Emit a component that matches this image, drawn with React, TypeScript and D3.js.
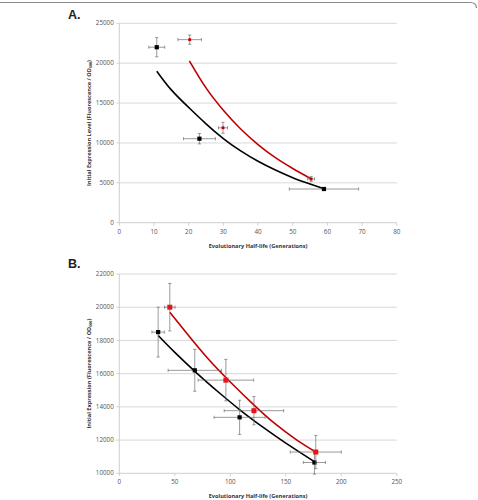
import React from "react";
import * as d3 from "d3";

// ---------- Panel A data ----------
const aXTicks = [0, 10, 20, 30, 40, 50, 60, 70, 80];
const aYTicks = [0, 5000, 10000, 15000, 20000, 25000];
const aBlackX = [10.8, 23.1, 59.0];
const aBlackY = [22000, 10530, 4225];
const aBlackXErr = [2.3, 4.6, 10];
const aBlackYErr = [1200, 650, 150];
const aRedX = [20.3, 29.9, 55.3];
const aRedY = [22950, 11900, 5480];
const aRedXErr = [3.4, 1.3, 1.0];
const aRedYErr = [580, 690, 300];
const aBlackFitX = [10.8, 15, 20, 25, 30, 35, 40, 45, 50, 55, 59];
const aBlackFitY = [19000, 16650, 14450, 12400, 10550, 9000, 7700, 6600, 5650, 4850, 4250];
const aRedFitX = [20.2, 25, 30, 35, 40, 45, 50, 55.3];
const aRedFitY = [20300, 16900, 14100, 11750, 9800, 8150, 6800, 5500];

// ---------- Panel B data ----------
const bXTicks = [0, 50, 100, 150, 200, 250];
const bYTicks = [10000, 12000, 14000, 16000, 18000, 20000, 22000];
const bBlackX = [35.0, 68.0, 108.4, 175.8];
const bBlackY = [18500, 16200, 13370, 10650];
const bBlackXErr = [5.6, 24, 23, 10];
const bBlackYErr = [1500, 1260, 1030, 700];
const bRedX = [45.5, 96.0, 121.3, 177.0];
const bRedY = [20000, 15610, 13770, 11280];
const bRedXErr = [4.8, 25, 26.8, 23];
const bRedYErr = [1430, 1250, 850, 1000];
const bBlackFitX = [35, 50, 70, 90, 110, 130, 150, 177];
const bBlackFitY = [18300, 17280, 16020, 14850, 13750, 12750, 11820, 10650];
const bRedFitX = [45.5, 60, 80, 100, 120, 140, 160, 177];
const bRedFitY = [19700, 18500, 16900, 15500, 14200, 13000, 12000, 11280];

const FONT = "'Open Sans', 'Liberation Sans', Arial, sans-serif";
const RED_LINE = "#c00000";
const RED_MARK = "#e8141b";
const ERR = "#6e6e6e";

type Series = {
  x: number[];
  y: number[];
  xe: number[];
  ye: number[];
  color: string;
  size: number;
};

type PanelProps = {
  label: string;
  top: number;
  bottom: number;
  xDomain: [number, number];
  yDomain: [number, number];
  xTicks: number[];
  yTicks: number[];
  series: Series[];
  fits: { x: number[]; y: number[]; color: string }[];
  yTitle: string;
  labelY: number;
};

const LEFT = 119.3;
const RIGHT = 396.8;

function Panel(p: PanelProps) {
  const x = d3.scaleLinear().domain(p.xDomain).range([LEFT, RIGHT]);
  const y = d3.scaleLinear().domain(p.yDomain).range([p.bottom, p.top]);
  const line = d3
    .line<[number, number]>()
    .x((d) => x(d[0]))
    .y((d) => y(d[1]))
    .curve(d3.curveNatural);
  const midY = (p.top + p.bottom) / 2;
  const cap = 1.6;
  return (
    <g>
      <text x={68} y={p.labelY} fontFamily="Arial, 'Liberation Sans', sans-serif" fontWeight="bold" fontSize={12.5} fill="#222">
        {p.label}
      </text>
      {p.yTicks.map((t) => (
        <g key={"g" + t}>
          {t !== p.yDomain[0] && (
            <line x1={LEFT} x2={RIGHT} y1={y(t)} y2={y(t)} stroke="#d4d4d4" strokeWidth={0.9} />
          )}
          <line x1={LEFT - 3} x2={LEFT} y1={y(t)} y2={y(t)} stroke="#c8c8c8" strokeWidth={0.8} />
          <text x={LEFT - 5.5} y={y(t)} dy="0.33em" textAnchor="end" fontFamily={FONT} fontSize={6.3} fill="#555">
            {t}
          </text>
        </g>
      ))}
      <line x1={LEFT} x2={LEFT} y1={p.top} y2={p.bottom} stroke="#c8c8c8" strokeWidth={0.9} />
      <line x1={LEFT} x2={RIGHT} y1={p.bottom} y2={p.bottom} stroke="#c8c8c8" strokeWidth={0.9} />
      {p.xTicks.map((t) => (
        <g key={"x" + t}>
          <line x1={x(t)} x2={x(t)} y1={p.bottom} y2={p.bottom + 3} stroke="#c8c8c8" strokeWidth={0.8} />
          <text x={x(t)} y={p.bottom + 11} textAnchor="middle" fontFamily={FONT} fontSize={6.3} fill="#555">
            {t}
          </text>
        </g>
      ))}
      <text x={(LEFT + RIGHT) / 2} y={p.bottom + 25} textAnchor="middle" fontFamily={FONT} fontWeight="bold" fontSize={5.6} fill="#333">
        Evolutionary Half-life (Generations)
      </text>
      <text
        transform={`translate(90.5,${midY}) rotate(-90)`}
        textAnchor="middle"
        fontFamily={FONT}
        fontWeight="bold"
        fontSize={5.6}
        fill="#333"
      >
        {p.yTitle}
        <tspan fontSize={3.6} dy={1.4}>600</tspan>
        <tspan dy={-1.4}>)</tspan>
      </text>
      {p.fits.map((f, i) => (
        <path
          key={"f" + i}
          d={line(f.x.map((v, j) => [v, f.y[j]] as [number, number])) || ""}
          fill="none"
          stroke={f.color}
          strokeWidth={1.6}
        />
      ))}
      {p.series.map((s, si) =>
        s.x.map((v, i) => {
          const cx = x(v);
          const cy = y(s.y[i]);
          const x0 = x(v - s.xe[i]);
          const x1 = x(v + s.xe[i]);
          const y0 = y(s.y[i] - s.ye[i]);
          const y1 = y(s.y[i] + s.ye[i]);
          return (
            <g key={`s${si}-${i}`}>
              <line x1={x0} x2={x1} y1={cy} y2={cy} stroke={ERR} strokeWidth={0.7} />
              <line x1={x0} x2={x0} y1={cy - cap} y2={cy + cap} stroke={ERR} strokeWidth={0.7} />
              <line x1={x1} x2={x1} y1={cy - cap} y2={cy + cap} stroke={ERR} strokeWidth={0.7} />
              <line x1={cx} x2={cx} y1={y0} y2={y1} stroke={ERR} strokeWidth={0.7} />
              <line x1={cx - cap} x2={cx + cap} y1={y0} y2={y0} stroke={ERR} strokeWidth={0.7} />
              <line x1={cx - cap} x2={cx + cap} y1={y1} y2={y1} stroke={ERR} strokeWidth={0.7} />
              <rect x={cx - s.size / 2} y={cy - s.size / 2} width={s.size} height={s.size} fill={s.color} />
            </g>
          );
        })
      )}
    </g>
  );
}

export default function App() {
  return (
    <svg width={478} height={500} style={{ position: "absolute", left: 0, top: 0, background: "#fff" }}>
      <path d="M0,2.5 H470 Q476.5,2.5 476.5,8" fill="none" stroke="#8a8a8a" strokeWidth={1.2} />
      <Panel
        label="A."
        labelY={19}
        top={23.3}
        bottom={222.7}
        xDomain={[0, 80]}
        yDomain={[0, 25000]}
        xTicks={aXTicks}
        yTicks={aYTicks}
        yTitle="Initial Expression Level (Fluorescence / OD"
        series={[
          { x: aBlackX, y: aBlackY, xe: aBlackXErr, ye: aBlackYErr, color: "#000", size: 4.2 },
          { x: aRedX, y: aRedY, xe: aRedXErr, ye: aRedYErr, color: RED_LINE, size: 2.8 },
        ]}
        fits={[
          { x: aBlackFitX, y: aBlackFitY, color: "#000" },
          { x: aRedFitX, y: aRedFitY, color: RED_LINE },
        ]}
      />
      <Panel
        label="B."
        labelY={268}
        top={274}
        bottom={473.3}
        xDomain={[0, 250]}
        yDomain={[10000, 22000]}
        xTicks={bXTicks}
        yTicks={bYTicks}
        yTitle="Initial Expression (Fluorescence / OD"
        series={[
          { x: bBlackX, y: bBlackY, xe: bBlackXErr, ye: bBlackYErr, color: "#000", size: 4.2 },
          { x: bRedX, y: bRedY, xe: bRedXErr, ye: bRedYErr, color: RED_MARK, size: 5 },
        ]}
        fits={[
          { x: bBlackFitX, y: bBlackFitY, color: "#000" },
          { x: bRedFitX, y: bRedFitY, color: RED_LINE },
        ]}
      />
    </svg>
  );
}
